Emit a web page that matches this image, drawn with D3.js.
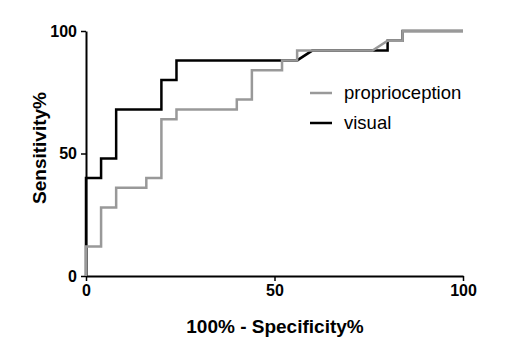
<!DOCTYPE html>
<html>
<head>
<meta charset="utf-8">
<script src="https://cdn.jsdelivr.net/npm/d3@7"></script>
<style>
body { margin: 0; background: #fff; }
svg { font-family: "Liberation Sans", Arial, sans-serif; }
</style>
</head>
<body>
<div id="chart"></div>
<script>
// ROC points (100% - specificity, sensitivity)
var propX = [0, 0, 4, 4, 8, 8, 16, 16, 20, 20, 24, 24, 40, 40, 44, 44, 52, 52, 56, 56, 76, 80, 84, 84, 100]
var propY = [0, 12, 12, 28, 28, 36, 36, 40, 40, 64, 64, 68, 68, 72, 72, 84, 84, 88, 88, 92, 92, 96, 96, 100, 100]
var visX = [0, 0, 4, 4, 8, 8, 20, 20, 24, 24, 56, 60, 80, 80, 84, 84, 100]
var visY = [0, 40, 40, 48, 48, 68, 68, 80, 80, 88, 88, 92, 92, 96, 96, 100, 100]
var tickVals = [0, 50, 100]
var seriesNames = ["proprioception", "visual"]
var seriesColors = ["#999999", "#000000"]

var w = 526
var h = 342

var svg = d3.select("#chart")
    .append("svg")
    .attr("width", w)
    .attr("height", h)

var x = d3.scaleLinear().domain([0, 100]).range([86, 463])
var y = d3.scaleLinear().domain([0, 100]).range([276, 31])

// axes
var xAxis = svg.append("g")
    .attr("transform", "translate(0," + y(0) + ")")
    .call(d3.axisBottom(x).tickValues(tickVals).tickSize(5).tickSizeOuter(0).tickPadding(4))

var yAxis = svg.append("g")
    .attr("transform", "translate(" + x(0) + ",0)")
    .call(d3.axisLeft(y).tickValues(tickVals).tickSize(5).tickSizeOuter(0).tickPadding(4))

svg.selectAll(".domain").attr("stroke", "#000").attr("stroke-width", 2)
svg.selectAll(".tick line").attr("stroke", "#000").attr("stroke-width", 1.5)
svg.selectAll(".tick text")
    .attr("fill", "#000")
    .style("font-size", "16px")
    .style("font-weight", "bold")
    .style("font-family", "Liberation Sans, Arial, sans-serif")

// axis titles
svg.append("text")
    .attr("x", 275)
    .attr("y", 333)
    .attr("text-anchor", "middle")
    .style("font-size", "19px")
    .style("font-weight", "bold")
    .text("100% - Specificity%")

svg.append("text")
    .attr("transform", "translate(46,148) rotate(-90)")
    .attr("text-anchor", "middle")
    .style("font-size", "19px")
    .style("font-weight", "bold")
    .text("Sensitivity%")

// curves, visual first so proprioception sits on top
var line = d3.line()
    .x(function(d){ return x(d[0]) })
    .y(function(d){ return y(d[1]) })

var visPts = d3.zip(visX, visY)
var propPts = d3.zip(propX, propY)

svg.append("path")
    .attr("d", line(visPts))
    .attr("fill", "none")
    .attr("stroke", seriesColors[1])
    .attr("stroke-width", 2.5)

svg.append("path")
    .attr("d", line(propPts))
    .attr("fill", "none")
    .attr("stroke", seriesColors[0])
    .attr("stroke-width", 2.5)

// legend
var legend = svg.selectAll(".legend")
    .data(seriesNames)
    .enter()
    .append("g")
    .attr("class", "legend")
    .attr("transform", function(d, i){ return "translate(310," + (93 + i * 30) + ")" })

legend.append("line")
    .attr("x1", 0)
    .attr("x2", 22)
    .attr("y1", 0)
    .attr("y2", 0)
    .attr("stroke", function(d, i){ return seriesColors[i] })
    .attr("stroke-width", 2.5)

legend.append("text")
    .attr("x", 34)
    .attr("y", 6)
    .style("font-size", "18.5px")
    .text(function(d){ return d })
</script>
</body>
</html>
